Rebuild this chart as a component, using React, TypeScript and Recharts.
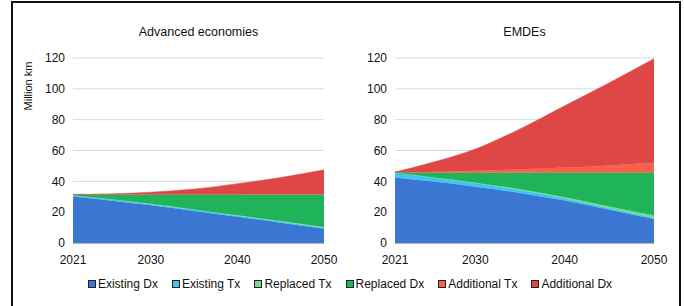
import { AreaChart, Area, XAxis, YAxis, CartesianGrid } from "recharts";

// years shown on each panel
const years = [2021, 2025, 2030, 2035, 2040, 2045, 2050];

// Advanced economies (million km)
const aeExistingDx = [30.2, 27.8, 24.5, 20.8, 17.0, 13.2, 9.2];
const aeExistingTx = [0.8, 0.8, 0.7, 0.7, 0.6, 0.6, 0.6];
const aeReplacedTx = [0.0, 0.1, 0.2, 0.3, 0.4, 0.5, 0.6];
const aeReplacedDx = [0.5, 2.8, 6.1, 9.7, 13.5, 17.2, 21.1];
const aeAdditionalTx = [0.0, 0.05, 0.1, 0.15, 0.2, 0.25, 0.3];
const aeAdditionalDx = [0.0, 0.25, 1.4, 3.35, 6.8, 10.75, 15.7];

// EMDEs (million km)
const emExistingDx = [42.5, 40.0, 36.5, 32.5, 27.5, 21.5, 15.5];
const emExistingTx = [3.0, 2.6, 2.2, 1.8, 1.4, 1.1, 0.9];
const emReplacedTx = [0.0, 0.2, 0.4, 0.6, 0.8, 1.1, 1.5];
const emReplacedDx = [0.5, 2.7, 6.4, 10.6, 15.8, 21.8, 27.6];
const emAdditionalTx = [0.0, 0.6, 1.4, 2.3, 3.4, 4.8, 6.5];
const emAdditionalDx = [0.0, 5.9, 14.1, 26.2, 40.1, 53.7, 67.5];

const xTicks = [2021, 2030, 2040, 2050];
const yTicks = [0, 20, 40, 60, 80, 100, 120];

const seriesNames = ["Existing Dx", "Existing Tx", "Replaced Tx", "Replaced Dx", "Additional Tx", "Additional Dx"];
const seriesKeys = ["existingDx", "existingTx", "replacedTx", "replacedDx", "additionalTx", "additionalDx"];
const seriesColors = ["#3b76d3", "#3ec6f2", "#74de86", "#1fb45a", "#f5644a", "#df4747"];

const FONT = "'Liberation Sans', Arial, sans-serif";

function buildRows(cols: number[][]) {
  return years.map((year, i) => {
    const row: any = { year };
    seriesKeys.forEach((k, s) => {
      row[k] = cols[s][i];
    });
    return row;
  });
}

const aeData = buildRows([aeExistingDx, aeExistingTx, aeReplacedTx, aeReplacedDx, aeAdditionalTx, aeAdditionalDx]);
const emData = buildRows([emExistingDx, emExistingTx, emReplacedTx, emReplacedDx, emAdditionalTx, emAdditionalDx]);

function Panel({ data, title, left, marginLeft, marginRight }: any) {
  return (
    <div style={{ position: "absolute", left, top: 0, width: 342, height: 270 }}>
      <div
        style={{
          position: "absolute",
          top: 25,
          left: marginLeft + 40,
          width: 342 - marginLeft - 40 - marginRight,
          textAlign: "center",
          fontFamily: FONT,
          fontSize: 12.5,
          color: "#111",
        }}
      >
        {title}
      </div>
      <AreaChart width={342} height={270} data={data} margin={{ top: 58, right: marginRight, bottom: 7, left: marginLeft }}>
        <CartesianGrid vertical={false} stroke="#d9d9d9" />
        <XAxis
          dataKey="year"
          type="number"
          domain={[2021, 2050]}
          ticks={xTicks}
          tickLine={false}
          tickMargin={6}
          height={20}
          axisLine={{ stroke: "#6d7f99" }}
          tick={{ fontSize: 12, fill: "#111", fontFamily: FONT }}
          interval={0}
        />
        <YAxis
          domain={[0, 120]}
          ticks={yTicks}
          width={40}
          tickLine={false}
          axisLine={false}
          tick={{ fontSize: 12, fill: "#111", fontFamily: FONT }}
        />
        {seriesKeys.map((k, s) => (
          <Area
            key={k}
            type="monotone"
            dataKey={k}
            name={seriesNames[s]}
            stackId="a"
            stroke={seriesColors[s]}
            strokeWidth={0.5}
            fill={seriesColors[s]}
            fillOpacity={1}
            isAnimationActive={false}
          />
        ))}
      </AreaChart>
    </div>
  );
}

export default function App() {
  return (
    <div style={{ position: "absolute", left: 0, top: 0, width: 684, height: 306, background: "#fff", overflow: "hidden" }}>
      <div style={{ position: "absolute", left: 11, top: 1, width: 666, height: 330, border: "2px solid #111" }} />
      <Panel data={aeData} title="Advanced economies" left={0} marginLeft={33} marginRight={18} />
      <Panel data={emData} title="EMDEs" left={342} marginLeft={13} marginRight={30} />
      <div
        style={{
          position: "absolute",
          left: 28,
          top: 86,
          transform: "translate(-50%, -50%) rotate(-90deg)",
          fontFamily: FONT,
          fontSize: 11,
          color: "#111",
          whiteSpace: "nowrap",
        }}
      >
        Million km
      </div>
      <div
        style={{
          position: "absolute",
          left: 0,
          top: 277,
          width: 700,
          display: "flex",
          justifyContent: "center",
          gap: 14,
          fontFamily: FONT,
          fontSize: 12,
          color: "#111",
        }}
      >
        {seriesNames.map((n, s) => (
          <div key={n} style={{ display: "flex", alignItems: "center" }}>
            <span
              style={{
                display: "inline-block",
                width: 6,
                height: 6,
                background: seriesColors[s],
                border: "1px solid #222",
                marginRight: 2,
              }}
            />
            {n}
          </div>
        ))}
      </div>
    </div>
  );
}
